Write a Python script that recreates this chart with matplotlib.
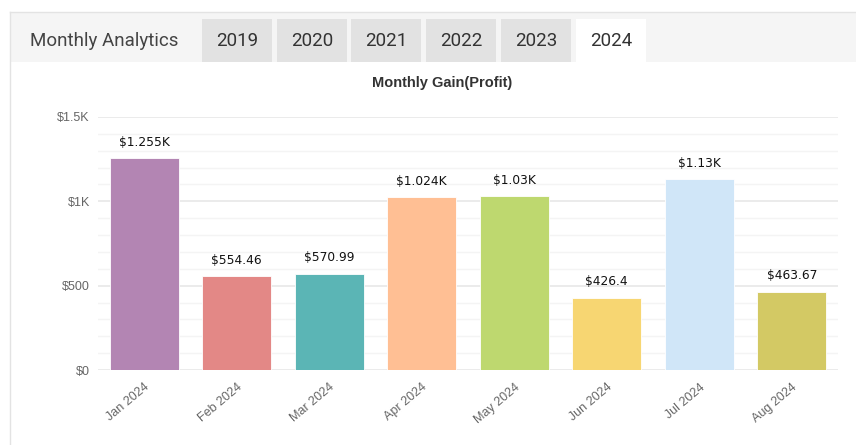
import matplotlib.pyplot as plt
from matplotlib.patches import Rectangle
from matplotlib.ticker import MultipleLocator, FuncFormatter
from matplotlib.transforms import ScaledTranslation

months = ["Jan 2024", "Feb 2024", "Mar 2024", "Apr 2024",
          "May 2024", "Jun 2024", "Jul 2024", "Aug 2024"]
gains = [1255, 554.46, 570.99, 1024, 1030, 426.4, 1130, 463.67]
gain_labels = ["$1.255K", "$554.46", "$570.99", "$1.024K",
               "$1.03K", "$426.4", "$1.13K", "$463.67"]
colors = ["#b385b3", "#e38886", "#5bb5b5", "#ffbf94",
          "#bed86f", "#f7d672", "#d0e6f8", "#d3c964"]
years = ["2019", "2020", "2021", "2022", "2023", "2024"]
active_year = "2024"

W, H = 856, 445
fig = plt.figure(figsize=(W / 100, H / 100), dpi=100)
fig.patch.set_facecolor("white")


def px(x, y):
    # pixel coords (top-left origin) -> figure fraction
    return x / W, 1 - y / H


# header band + outer border
x0, y0 = px(10, 62)
fig.patches.append(Rectangle((x0, y0), 1 - x0, 50 / H, transform=fig.transFigure,
                             facecolor="#f5f5f5", edgecolor="none", zorder=0))
fig.add_artist(plt.Line2D([10 / W, 1], [1 - 12 / H] * 2, transform=fig.transFigure,
                          color="#e3e3e3", lw=1))
fig.add_artist(plt.Line2D([10 / W] * 2, [0, 1 - 12 / H], transform=fig.transFigure,
                          color="#e3e3e3", lw=1))

fig.text(*px(30, 41), "Monthly Analytics", family="Roboto", fontsize=13.5,
         color="#444444", va="center", ha="left")

tab_left = [202, 277, 351, 426, 501, 576]
for left, yr in zip(tab_left, years):
    tx, ty = px(left, 62)
    face = "white" if yr == active_year else "#e2e2e2"
    fig.patches.append(Rectangle((tx, ty), 70 / W, 43 / H, transform=fig.transFigure,
                                 facecolor=face, edgecolor="none", zorder=1))
    fig.text(*px(left + 35, 41), yr, family="Roboto", fontsize=13.5,
             color="#333333", ha="center", va="center")

fig.text(*px(442, 83), "Monthly Gain(Profit)", family="Liberation Sans", fontsize=10.5,
         fontweight="bold", color="#333333", ha="center", va="center")

# chart
ax = fig.add_axes([98 / W, 1 - 370 / H, 740 / W, 253 / H])
xs = range(len(months))
ax.bar(xs, gains, width=0.75, color=colors, edgecolor="white", linewidth=0.6, zorder=3)
for x, v, lab in zip(xs, gains, gain_labels):
    ax.annotate(lab, (x, v), xytext=(0, 7), textcoords="offset points",
                ha="center", va="bottom", fontsize=8.8, color="#111111",
                family="DejaVu Sans", annotation_clip=False)

ax.set_xlim(-0.5, len(months) - 0.5)
ax.set_ylim(0, 1500)
ax.yaxis.set_major_locator(MultipleLocator(500))
ax.yaxis.set_minor_locator(MultipleLocator(100))


def money(v, pos):
    if v >= 1000:
        return f"${v / 1000:g}K"
    return f"${v:g}"


ax.yaxis.set_major_formatter(FuncFormatter(money))
ax.grid(axis="y", which="major", color="#e8e8e8", lw=1.2, zorder=0)
ax.grid(axis="y", which="minor", color="#f4f4f4", lw=1, zorder=0)
for s in ax.spines.values():
    s.set_visible(False)
ax.tick_params(axis="both", which="both", length=0)
ax.tick_params(axis="y", pad=6, labelsize=9, labelcolor="#666666")
ax.set_xticks(list(xs))
ax.set_xticklabels(months, rotation=40, ha="right", rotation_mode="anchor",
                   fontsize=9, color="#666666", family="Liberation Sans")
shift = ScaledTranslation(-5 / 100, 0, fig.dpi_scale_trans)
for t in ax.get_xticklabels():
    t.set_transform(t.get_transform() + shift)
for t in ax.get_yticklabels():
    t.set_family("Liberation Sans")
ax.tick_params(axis="x", pad=8)

fig.savefig("out.png", dpi=100)
